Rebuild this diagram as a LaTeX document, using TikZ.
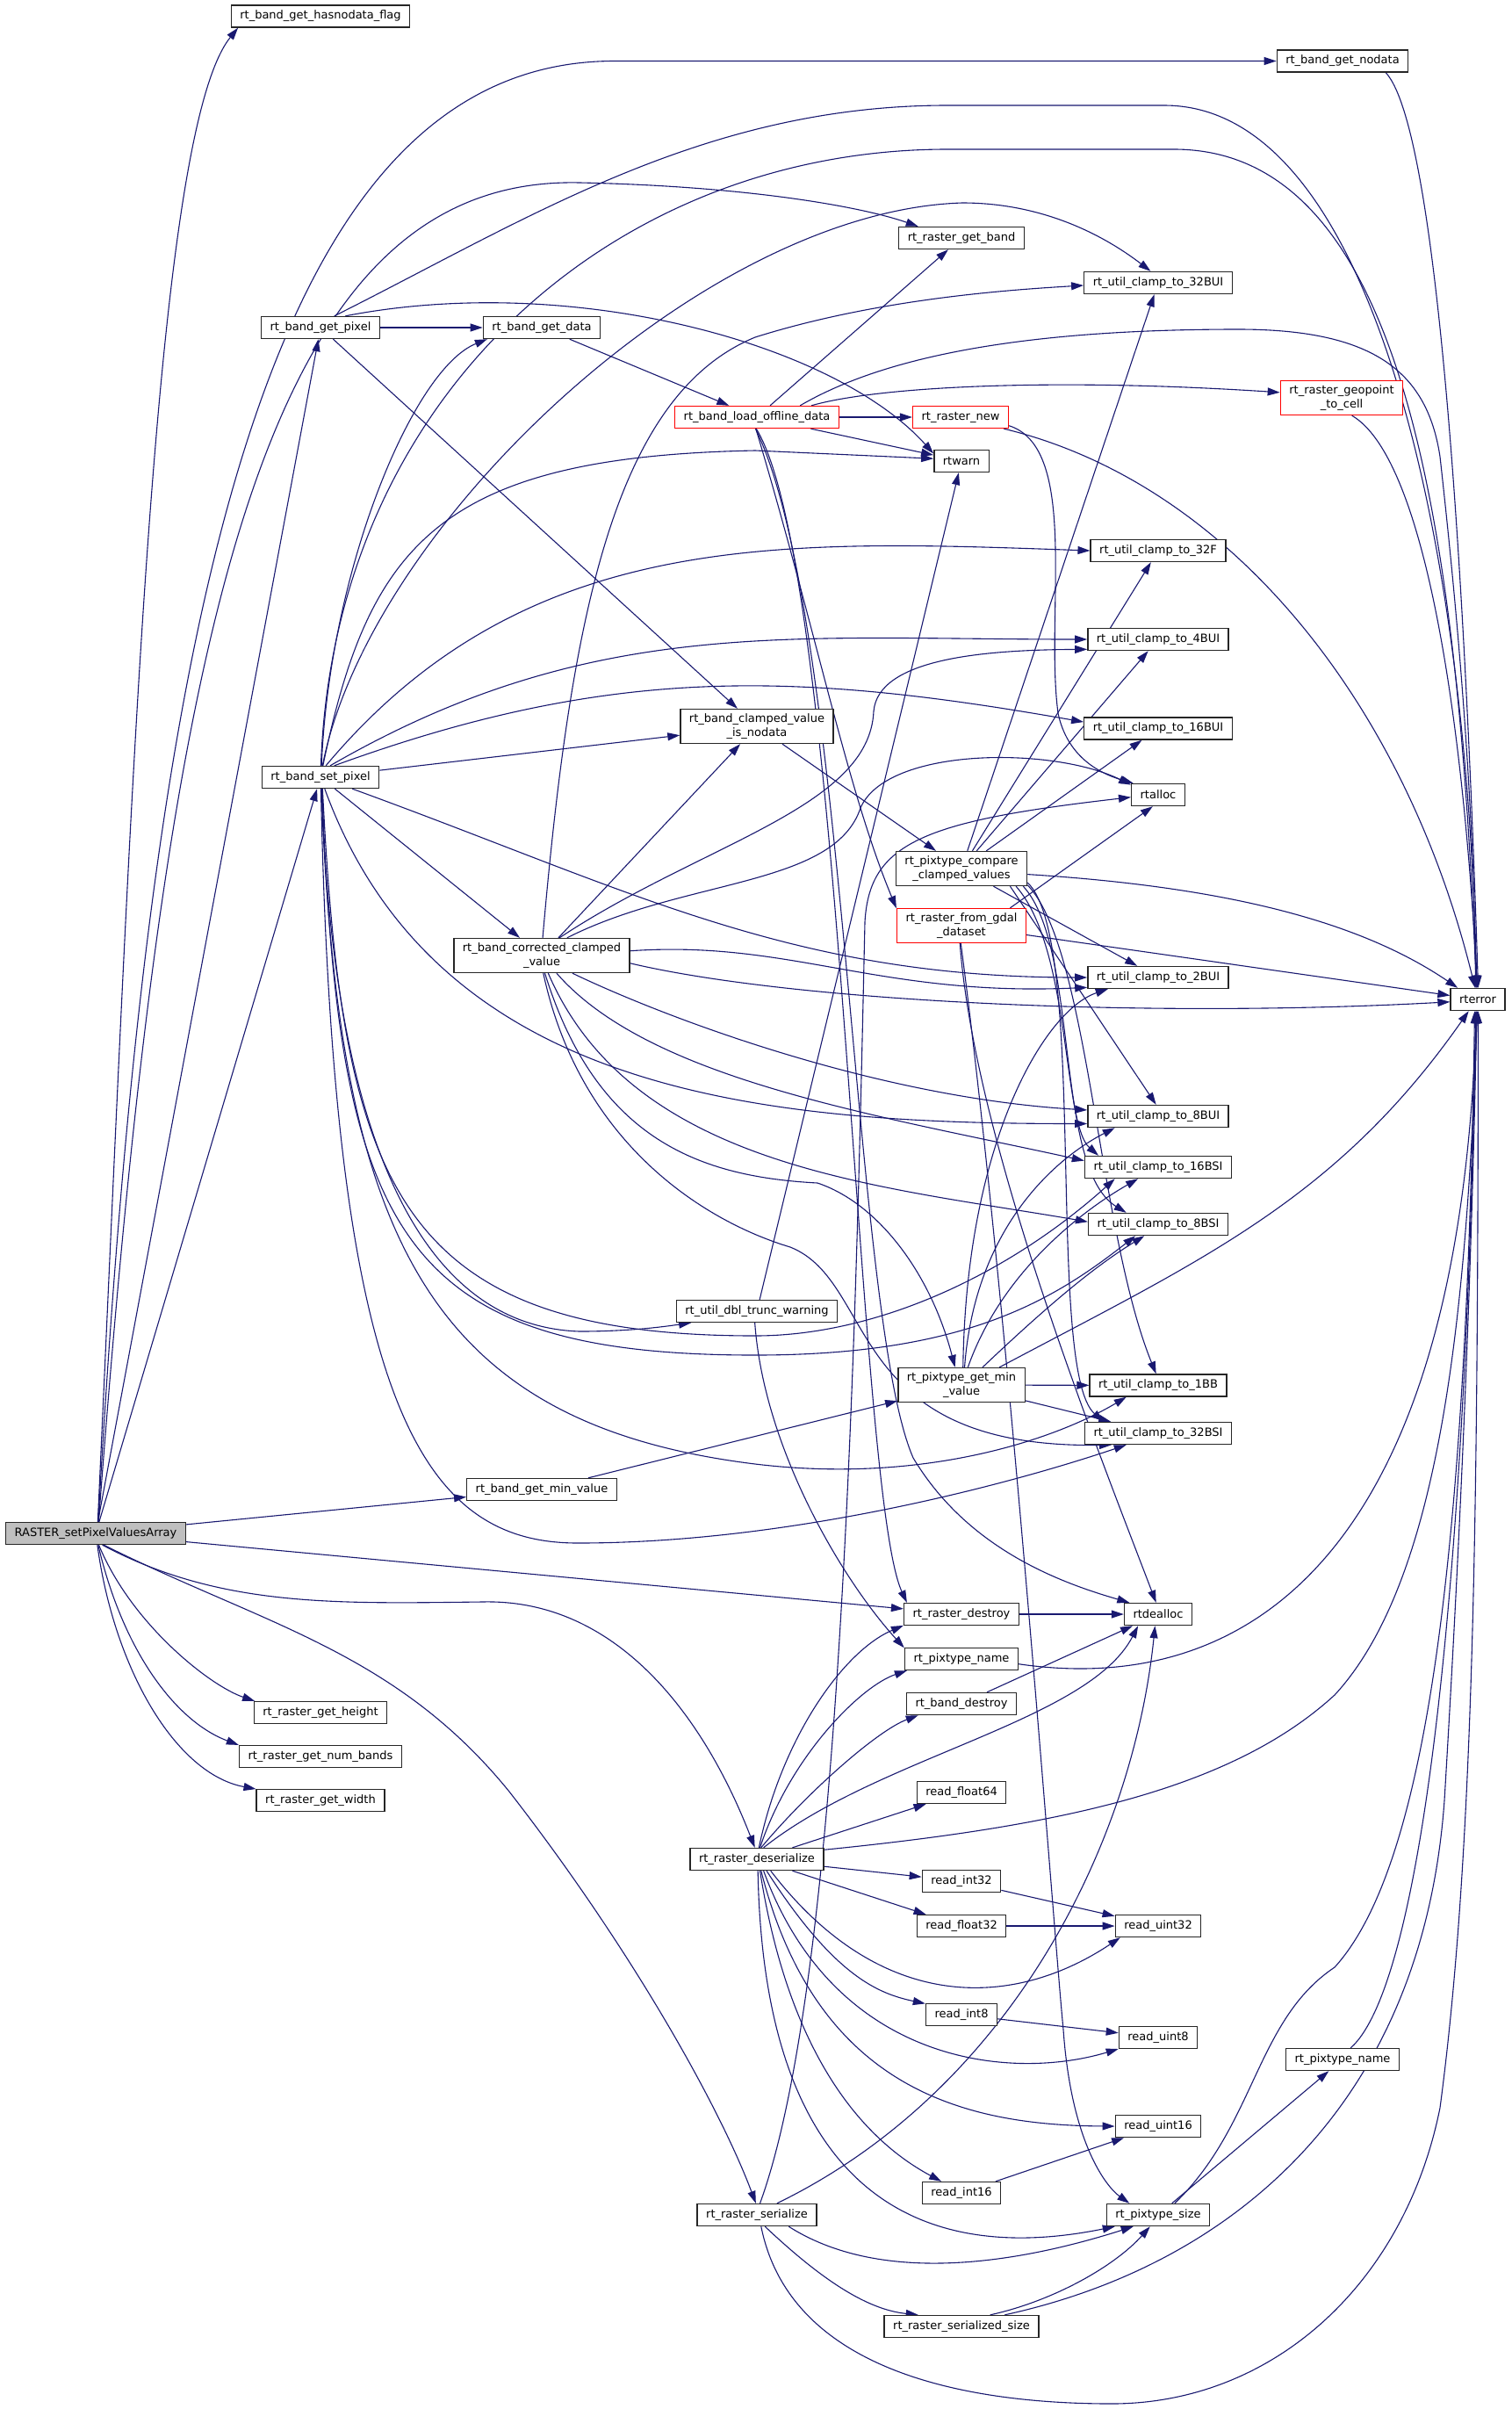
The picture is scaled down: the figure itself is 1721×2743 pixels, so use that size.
\documentclass[tikz,border=0pt]{standalone}
\usepackage{fontspec}
\setmainfont{DejaVu Sans}
\usetikzlibrary{arrows.meta,positioning}
\definecolor{edgeblue}{RGB}{25,25,112}
\definecolor{rootgray}{RGB}{191,191,191}
\newcommand{\callfont}{\fontsize{13}{16}\selectfont}
\pgfdeclarelayer{edgelayer}
\pgfsetlayers{edgelayer,main}

\begin{document}
\begin{tikzpicture}[x=1pt,y=1pt,>={Triangle[length=14pt,width=9pt]},
fnbox/.style={draw=black!85,line width=1.4pt,fill=white,inner xsep=10pt,inner ysep=5pt,
  minimum height=25pt,align=center,font=\callfont},
fnred/.style={fnbox,draw=red},
callarrow/.style={->,color=edgeblue,line width=1.1pt}]
\useasboundingbox (0,0) rectangle (1721,-2743);

% column 1
\node[fnbox,fill=rootgray] (R) at (109,-1746) {RASTER\_setPixelValuesArray};
% column 2
\node[fnbox] (hasnd) at (365,-18.5) {rt\_band\_get\_hasnodata\_flag};
\node[fnbox] (getpix) at (365,-373) {rt\_band\_get\_pixel};
\node[fnbox] (setpix) at (365,-885) {rt\_band\_set\_pixel};
\node[fnbox] (getheight) at (365,-1950) {rt\_raster\_get\_height};
\node[fnbox] (numb) at (365,-2000) {rt\_raster\_get\_num\_bands};
\node[fnbox] (getwidth) at (365,-2050) {rt\_raster\_get\_width};
% column 3
\node[fnbox] (getdata) at (617,-373) {rt\_band\_get\_data};
\node[fnbox] (corr) at (617,-1088) {rt\_band\_corrected\_clamped\\\_value};
\node[fnbox] (getmin) at (617,-1696) {rt\_band\_get\_min\_value};
% column 4
\node[fnred] (lod) at (862,-475) {rt\_band\_load\_offline\_data};
\node[fnbox] (isnd) at (862,-827) {rt\_band\_clamped\_value\\\_is\_nodata};
\node[fnbox] (dtw) at (862,-1493) {rt\_util\_dbl\_trunc\_warning};
\node[fnbox] (deser) at (862,-2117) {rt\_raster\_deserialize};
\node[fnbox] (ser) at (862,-2522) {rt\_raster\_serialize};
% column 5
\node[fnbox] (getband) at (1095,-271) {rt\_raster\_get\_band};
\node[fnred] (rnew) at (1094,-475) {rt\_raster\_new};
\node[fnbox] (rtwarn) at (1095,-525) {rtwarn};
\node[fnbox] (cmp) at (1095,-989) {rt\_pixtype\_compare\\\_clamped\_values};
\node[fnred] (fromgdal) at (1095,-1054) {rt\_raster\_from\_gdal\\\_dataset};
\node[fnbox] (minval) at (1095,-1577) {rt\_pixtype\_get\_min\\\_value};
\node[fnbox] (rdestroy) at (1095,-1838) {rt\_raster\_destroy};
\node[fnbox] (pname) at (1095,-1889) {rt\_pixtype\_name};
\node[fnbox] (bdestroy) at (1095,-1940) {rt\_band\_destroy};
\node[fnbox] (rf64) at (1095,-2041) {read\_float64};
\node[fnbox] (ri32) at (1095,-2142) {read\_int32};
\node[fnbox] (rf32) at (1095,-2193) {read\_float32};
\node[fnbox] (ri8) at (1095,-2294) {read\_int8};
\node[fnbox] (ri16) at (1095,-2497) {read\_int16};
\node[fnbox] (sersize) at (1095,-2649) {rt\_raster\_serialized\_size};
% column 6
\node[fnbox] (c32bui) at (1319,-322) {rt\_util\_clamp\_to\_32BUI};
\node[fnbox] (c32f) at (1319,-627) {rt\_util\_clamp\_to\_32F};
\node[fnbox] (c4bui) at (1319,-728) {rt\_util\_clamp\_to\_4BUI};
\node[fnbox] (c16bui) at (1319,-829.5) {rt\_util\_clamp\_to\_16BUI};
\node[fnbox] (rtalloc) at (1319,-905) {rtalloc};
\node[fnbox] (c2bui) at (1319,-1113) {rt\_util\_clamp\_to\_2BUI};
\node[fnbox] (c8bui) at (1319,-1271) {rt\_util\_clamp\_to\_8BUI};
\node[fnbox] (c16bsi) at (1319,-1329) {rt\_util\_clamp\_to\_16BSI};
\node[fnbox] (c8bsi) at (1319,-1394) {rt\_util\_clamp\_to\_8BSI};
\node[fnbox] (c1bb) at (1319,-1577.5) {rt\_util\_clamp\_to\_1BB};
\node[fnbox] (c32bsi) at (1319,-1632) {rt\_util\_clamp\_to\_32BSI};
\node[fnbox] (rtdealloc) at (1319,-1838) {rtdealloc};
\node[fnbox] (ru32) at (1319,-2193) {read\_uint32};
\node[fnbox] (ru8) at (1319,-2320) {read\_uint8};
\node[fnbox] (ru16) at (1319,-2421) {read\_uint16};
\node[fnbox] (psize) at (1319,-2522) {rt\_pixtype\_size};
% column 7 and 8
\node[fnbox] (nodata) at (1529,-69.5) {rt\_band\_get\_nodata};
\node[fnred] (geocell) at (1528,-453) {rt\_raster\_geopoint\\\_to\_cell};
\node[fnbox] (pname2) at (1529,-2345) {rt\_pixtype\_name};
\node[fnbox] (rterror) at (1683,-1138) {rterror};

\begin{pgfonlayer}{edgelayer}
% RASTER_setPixelValuesArray
\draw[callarrow] (R.80) .. controls (150,-900) and (175,-150) .. (hasnd.-172);
\draw[callarrow] (R.78) .. controls (170,-700) and (300,-69.5) .. (700,-69.5) -- (nodata.west);
\draw[callarrow] (R.76) .. controls (190,-700) and (300,-200) .. (660,-208) .. controls (850,-212) and (980,-235) .. (getband.165);
\path[callarrow] (R) edge (getpix) (R) edge (setpix) (R) edge (getmin) (R) edge (rdestroy);
\draw[callarrow] (R.-60) .. controls (250,-1830) and (380,-1826) .. (549,-1824) .. controls (700,-1820) and (800,-1950) .. (deser.100);
\draw[callarrow] (R.-55) .. controls (300,-1850) and (450,-1880) .. (580,-2040) .. controls (720,-2220) and (820,-2400) .. (ser.95);
\draw[callarrow] (R.-75) .. controls (150,-1850) and (240,-1920) .. (getheight.170);
\draw[callarrow] (R.-78) .. controls (140,-1880) and (200,-1960) .. (numb.172);
\draw[callarrow] (R.-82) .. controls (130,-1900) and (200,-2020) .. (getwidth.170);
% rt_band_get_pixel
\path[callarrow] (getpix) edge (getdata) (getpix) edge (isnd);
\draw[callarrow] (getpix.40) .. controls (600,-250) and (800,-120) .. (1079,-120) -- (1326,-120) .. controls (1560,-120) and (1670,-600) .. (rterror.95);
\draw[callarrow] (getpix.25) .. controls (650,-310) and (950,-390) .. (rtwarn.165);
\path[callarrow] (getdata) edge (lod);
% rt_band_load_offline_data
\path[callarrow] (lod) edge (getband) (lod) edge (rnew) (lod) edge (rtwarn);
\draw[callarrow] (lod.15) .. controls (1000,-410) and (1150,-375) .. (1410,-375) .. controls (1560,-375) and (1625,-420) .. (1640,-520) .. controls (1660,-700) and (1678,-900) .. (rterror.100);
\draw[callarrow] (lod.12) .. controls (1000,-440) and (1200,-430) .. (geocell.175);
\draw[callarrow] (lod.-95) .. controls (930,-720) and (965,-900) .. (fromgdal.165);
\draw[callarrow] (lod.-93) .. controls (960,-650) and (975,-1700) .. (rdestroy.168);
\draw[callarrow] (lod.-97) .. controls (965,-700) and (970,-1500) .. (1040,-1660) .. controls (1100,-1760) and (1200,-1800) .. (rtdealloc.158);
\draw[callarrow] (rnew.-10) .. controls (1230,-510) and (1190,-700) .. (1205,-812) .. controls (1215,-860) and (1250,-880) .. (rtalloc.155);
\draw[callarrow] (rnew.-15) .. controls (1400,-550) and (1600,-800) .. (rterror.103);
\draw[callarrow] (geocell.-60) .. controls (1620,-520) and (1665,-800) .. (rterror.92);
\draw[callarrow] (nodata.-15) .. controls (1640,-150) and (1670,-700) .. (rterror.88);
\path[callarrow] (isnd) edge (cmp);
% rt_band_corrected_clamped_value
\path[callarrow] (corr) edge (isnd);
\draw[callarrow] (corr.87) .. controls (650,-700) and (700,-450) .. (860,-384) .. controls (1000,-340) and (1150,-330) .. (c32bui.182);
\draw[callarrow] (corr.45) .. controls (800,-960) and (990,-920) .. (995,-810) .. controls (1000,-750) and (1120,-740) .. (c4bui.188);
\draw[callarrow] (corr.35) .. controls (780,-1000) and (950,-1010) .. (980,-920) .. controls (1010,-850) and (1200,-850) .. (rtalloc.160);
\draw[callarrow] (corr.3) .. controls (900,-1070) and (1000,-1135) .. (c2bui.188);
\draw[callarrow] (corr.-5) .. controls (900,-1140) and (1300,-1160) .. (rterror.185);
\draw[callarrow] (corr.-30) .. controls (760,-1160) and (1000,-1250) .. (c8bui.175);
\draw[callarrow] (corr.-50) .. controls (740,-1230) and (1000,-1270) .. (c16bsi.175);
\draw[callarrow] (corr.-70) .. controls (720,-1330) and (1000,-1350) .. (c8bsi.178);
\draw[callarrow] (corr.-80) .. controls (680,-1300) and (800,-1340) .. (931,-1347) .. controls (1000,-1370) and (1060,-1450) .. (minval.110);
\draw[callarrow] (corr.-85) .. controls (660,-1300) and (800,-1390) .. (900,-1420) .. controls (1000,-1460) and (960,-1650) .. (c32bsi.194);
% rt_band_set_pixel
\draw[callarrow] (setpix.85) .. controls (375,-650) and (470,-420) .. (getdata.-168);
\draw[callarrow] (setpix.88) .. controls (380,-450) and (700,-170) .. (1079,-170) -- (1337,-170) .. controls (1600,-170) and (1660,-600) .. (rterror.97);
\draw[callarrow] (setpix.80) .. controls (420,-600) and (800,-240) .. (1096,-231) .. controls (1190,-231) and (1260,-270) .. (c32bui.123);
\draw[callarrow] (setpix.78) .. controls (420,-620) and (500,-520) .. (860,-513) -- (rtwarn.175);
\draw[callarrow] (setpix.65) to[out=50,in=178] (c32f.180);
\draw[callarrow] (setpix.50) to[out=30,in=180] (c4bui.180);
\draw[callarrow] (setpix.40) to[out=20,in=170] (c16bui.175);
\path[callarrow] (setpix) edge (isnd) (setpix) edge (corr);
\draw[callarrow] (setpix.-20) to[out=-20,in=180] (c2bui.180);
\draw[callarrow] (setpix.-70) to[out=-70,in=180] (c8bui.186);
\draw[callarrow] (setpix.-80) .. controls (390,-1350) and (450,-1521) .. (860,-1521) .. controls (1000,-1521) and (1150,-1450) .. (c16bsi.195);
\draw[callarrow] (setpix.-82) .. controls (385,-1400) and (450,-1543) .. (860,-1543) .. controls (1100,-1543) and (1200,-1480) .. (c8bsi.207);
\draw[callarrow] (setpix.-85) .. controls (380,-1300) and (480,-1510) .. (660,-1516) .. controls (720,-1516) and (760,-1510) .. (dtw.-170);
\draw[callarrow] (setpix.-86) .. controls (385,-1400) and (480,-1620) .. (860,-1667) .. controls (1050,-1690) and (1200,-1640) .. (c1bb.200);
\draw[callarrow] (setpix.-88) .. controls (380,-1600) and (480,-1757) .. (658,-1757) .. controls (900,-1757) and (1150,-1690) .. (c32bsi.200);
% rt_pixtype_compare_clamped_values
\path[callarrow] (cmp) edge (c32bui) (cmp) edge (c32f) (cmp) edge (c4bui) (cmp) edge (c16bui)
  (cmp) edge (c2bui) (cmp.-20) edge (c8bui.100);
\draw[callarrow] (cmp.-5) .. controls (1400,-1010) and (1550,-1050) .. (rterror.150);
\draw[callarrow] (cmp.-18) .. controls (1220,-1080) and (1210,-1280) .. (c16bsi.169);
\draw[callarrow] (cmp.-16) .. controls (1230,-1080) and (1200,-1330) .. (c8bsi.160);
\draw[callarrow] (cmp.-14) .. controls (1240,-1080) and (1250,-1400) .. (c1bb.100);
\draw[callarrow] (cmp.-12) .. controls (1240,-1070) and (1190,-1560) .. (c32bsi.168);
% rt_raster_from_gdal_dataset
\path[callarrow] (fromgdal.20) edge (rtalloc.-115) (fromgdal) edge (rterror);
\draw[callarrow] (fromgdal.-95) .. controls (1110,-1300) and (1250,-1650) .. (rtdealloc.100);
\draw[callarrow] (fromgdal.-92) .. controls (1150,-1500) and (1200,-2200) .. (1211,-2311) .. controls (1220,-2440) and (1260,-2490) .. (psize.158);
% rt_pixtype_get_min_value
\path[callarrow] (minval) edge (c1bb) (minval) edge (c32bsi);
\draw[callarrow] (minval.25) to[out=28,in=-125] (rterror.-128);
\draw[callarrow] (minval.40) .. controls (1200,-1480) and (1250,-1440) .. (c8bsi.220);
\draw[callarrow] (minval.70) .. controls (1140,-1450) and (1230,-1380) .. (c16bsi.210);
\draw[callarrow] (minval.80) .. controls (1110,-1400) and (1200,-1320) .. (c8bui.195);
\draw[callarrow] (minval.85) .. controls (1100,-1300) and (1190,-1150) .. (c2bui.193);
% rt_util_dbl_trunc_warning, rt_band_get_min_value
\path[callarrow] (dtw) edge (rtwarn) (getmin) edge (minval);
\draw[callarrow] (dtw.-100) .. controls (870,-1650) and (960,-1800) .. (pname.169);
\path[callarrow] (rdestroy) edge (rtdealloc) (bdestroy) edge (rtdealloc);
\draw[callarrow] (pname.-5) .. controls (1400,-1930) and (1660,-1800) .. (rterror.-97);
% rt_raster_deserialize
\draw[callarrow] (deser.80) .. controls (890,-1980) and (960,-1880) .. (rdestroy.-169);
\draw[callarrow] (deser.75) .. controls (900,-2000) and (980,-1920) .. (pname.-168);
\draw[callarrow] (deser.70) .. controls (920,-2040) and (1000,-1970) .. (bdestroy.-165);
\draw[callarrow] (deser.60) .. controls (1000,-2000) and (1240,-1960) .. (rtdealloc.-150);
\path[callarrow] (deser) edge (rf64) (deser) edge (ri32) (deser) edge (rf32);
\draw[callarrow] (deser.8) .. controls (1200,-2080) and (1400,-2040) .. (1520,-1930) .. controls (1640,-1800) and (1670,-1500) .. (rterror.-92);
\draw[callarrow] (deser.-40) .. controls (1000,-2290) and (1150,-2290) .. (ru32.-163);
\draw[callarrow] (deser.-50) .. controls (950,-2250) and (1000,-2270) .. (ri8.163);
\draw[callarrow] (deser.-60) .. controls (950,-2350) and (1150,-2370) .. (ru8.-164);
\draw[callarrow] (deser.-70) .. controls (930,-2380) and (1100,-2420) .. (ru16.180);
\draw[callarrow] (deser.-75) .. controls (900,-2350) and (990,-2440) .. (ri16.150);
\draw[callarrow] (deser.-85) .. controls (870,-2500) and (1050,-2580) .. (psize.-165);
% rt_raster_serialize
\draw[callarrow] (ser.75) .. controls (960,-2250) and (975,-1500) .. (985,-1050) .. controls (990,-960) and (1050,-935) .. (rtalloc.185);
\draw[callarrow] (ser.30) .. controls (1150,-2380) and (1290,-2100) .. (rtdealloc.-105);
\draw[callarrow] (ser.-20) .. controls (1000,-2600) and (1150,-2580) .. (psize.-155);
\draw[callarrow] (ser.-55) .. controls (940,-2600) and (990,-2630) .. (sersize.165);
\draw[callarrow] (ser.-70) .. controls (900,-2700) and (1100,-2737) .. (1266,-2737) .. controls (1450,-2737) and (1600,-2600) .. (1640,-2400) .. controls (1680,-2100) and (1683,-1700) .. (rterror.-88);
\draw[callarrow] (sersize.22) .. controls (1200,-2620) and (1270,-2580) .. (psize.-125);
\draw[callarrow] (sersize.15) .. controls (1400,-2580) and (1620,-2400) .. (1645,-2050) .. controls (1660,-1800) and (1675,-1500) .. (rterror.-95);
% rt_pixtype_size and readers
\path[callarrow] (psize) edge (pname2);
\draw[callarrow] (psize.35) .. controls (1430,-2420) and (1430,-2300) .. (1520,-2240) .. controls (1620,-2130) and (1670,-1800) .. (rterror.-105);
\draw[callarrow] (pname2.55) .. controls (1620,-2260) and (1670,-1800) .. (rterror.-100);
\path[callarrow] (ri32) edge (ru32) (rf32) edge (ru32) (ri8) edge (ru8) (ri16) edge (ru16);
\end{pgfonlayer}
\end{tikzpicture}
\end{document}
